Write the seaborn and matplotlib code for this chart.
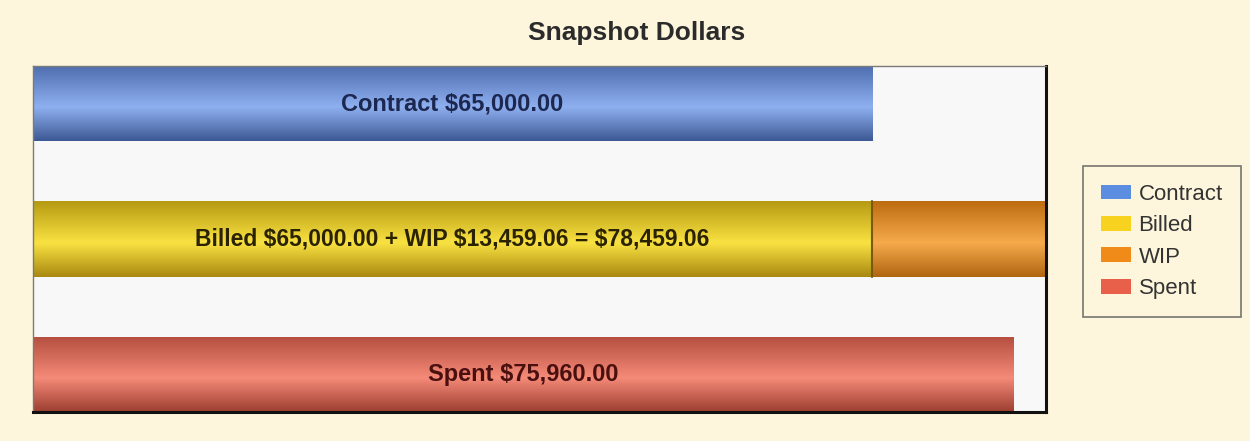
import numpy as np
import pandas as pd
import matplotlib
matplotlib.use("Agg")
import matplotlib.pyplot as plt
import seaborn as sns
from matplotlib.colors import LinearSegmentedColormap
from matplotlib.patches import Patch

# ---- data ----
categories = ["Contract", "Billed", "Spent"]
contract_value = 65000.00
billed_value = 65000.00
wip_value = 13459.06
spent_value = 75960.00
bar_values = [contract_value, billed_value + wip_value, spent_value]
bar_labels = ["Contract $65,000.00",
              "Billed $65,000.00 + WIP $13,459.06 = $78,459.06",
              "Spent $75,960.00"]
legend_labels = ["Contract", "Billed", "WIP", "Spent"]
title_text = "Snapshot Dollars"

# ---- style ----
sns.set_theme(style="white")
plt.rcParams["font.family"] = ["Liberation Sans", "DejaVu Sans"]

page_bg = "#fdf6dc"
plot_bg = "#f8f8f8"
grads = {
    "Contract": ["#4d6cae", "#8fb0f0", "#3c5894"],
    "Billed": ["#b59a12", "#f9e242", "#a88810"],
    "WIP": ["#bd6c10", "#f6aa4c", "#b06510"],
    "Spent": ["#b44e3e", "#f58a78", "#9c3e30"],
}
legend_colors = ["#5b8de0", "#f7d21e", "#f08a18", "#e8604a"]
label_colors = ["#1c2850", "#2a2200", "#4a1010"]

fig = plt.figure(figsize=(12.5, 4.41), dpi=100)
fig.patch.set_facecolor(page_bg)
ax = fig.add_axes([0.0264, 0.0658, 0.8104, 0.7845])
ax.set_facecolor(plot_bg)

bar_h = 0.556
df_tot = pd.DataFrame({"cat": categories, "val": bar_values})
sns.barplot(data=df_tot, x="val", y="cat", order=categories, orient="h",
            width=bar_h, color="#888888", ax=ax, saturation=1, linewidth=0)
df_billed = pd.DataFrame({"cat": ["Billed"], "val": [billed_value]})
sns.barplot(data=df_billed, x="val", y="cat", order=categories, orient="h",
            width=bar_h, color="#888888", ax=ax, saturation=1, linewidth=0)

patches = list(ax.patches)
kinds = ["Contract", "WIP", "Spent", "Billed"]
total = billed_value + wip_value

grad = np.linspace(0, 1, 256).reshape(-1, 1)
for p, kind in zip(patches, kinds):
    if p.get_width() <= 0:
        continue
    p.set_facecolor("none")
    cmap = LinearSegmentedColormap.from_list(
        kind, [(0, grads[kind][0]), (0.55, grads[kind][1]), (1, grads[kind][2])])
    x0, y0 = p.get_x(), p.get_y()
    w, h = p.get_width(), p.get_height()
    im = ax.imshow(grad, cmap=cmap, aspect="auto",
                   extent=[x0, x0 + w, y0 + h, y0], zorder=2,
                   interpolation="bicubic")
    im.set_clip_path(p)
    if kind == "Billed":
        ax.plot([x0 + w, x0 + w], [y0, y0 + h], color="#7a5a08", lw=1.5, zorder=3)

ax.set_xlim(0, total)
ax.set_ylim(2 + bar_h / 2, -bar_h / 2)

centers = [contract_value / 2, billed_value / 2, spent_value / 2]
sizes = [17, 16.5, 17]
for i, (lab, cx) in enumerate(zip(bar_labels, centers)):
    ax.text(cx, i, lab, ha="center", va="center", fontsize=sizes[i],
            fontweight="bold", color=label_colors[i], zorder=4)

ax.set_xticks([])
ax.set_yticks([])
ax.set_xlabel("")
ax.set_ylabel("")
for side in ["left", "top"]:
    ax.spines[side].set_color("#7a7a7a")
    ax.spines[side].set_linewidth(1.0)
for side in ["right", "bottom"]:
    ax.spines[side].set_color("#111111")
    ax.spines[side].set_linewidth(2.2)

fig.text(0.509, 0.925, title_text, ha="center", va="center", fontsize=19,
         fontweight="bold", color="#2b2b2b")

handles = [Patch(facecolor=c, edgecolor="none") for c in legend_colors]
leg = fig.legend(handles, legend_labels, loc="upper left",
                 bbox_to_anchor=(0.8664, 0.6236), borderaxespad=0,
                 frameon=True, fontsize=16,
                 handlelength=1.35, handleheight=0.65, handletextpad=0.35,
                 labelspacing=0.47, borderpad=0.8, fancybox=False)
leg.get_frame().set_facecolor(page_bg)
leg.get_frame().set_edgecolor("#555555")
leg.get_frame().set_linewidth(1.2)
for t in leg.get_texts():
    t.set_color("#333333")

fig.savefig("out.png", dpi=100, facecolor=page_bg)
